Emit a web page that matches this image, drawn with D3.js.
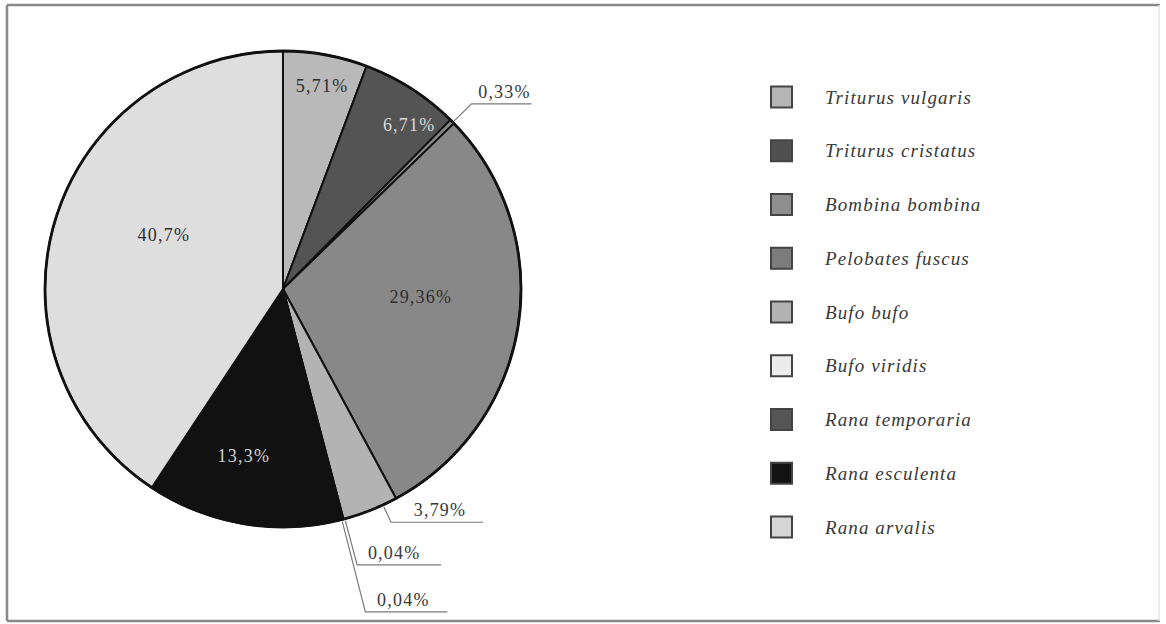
<!DOCTYPE html>
<html>
<head>
<meta charset="utf-8">
<script src="https://cdn.jsdelivr.net/npm/d3@7"></script>
<style>
  html, body { margin: 0; padding: 0; background: #fff; }
  svg { display: block; }
</style>
</head>
<body>
<svg id="chart" width="1166" height="624"></svg>
<script>
// ---- data ----
const species = ["Triturus vulgaris", "Triturus cristatus", "Bombina bombina", "Pelobates fuscus",
                 "Bufo bufo", "Bufo viridis", "Rana temporaria", "Rana esculenta", "Rana arvalis"];
const shares = [5.71, 6.71, 0.33, 29.36, 3.79, 0.04, 0.04, 13.3, 40.7];
const labels = ["5,71%", "6,71%", "0,33%", "29,36%", "3,79%", "0,04%", "0,04%", "13,3%", "40,7%"];

// ---- styles ----
const fills = ["#b9b9b9", "#545454", "#8a8a8a", "#888888", "#b3b3b3", "#ededed", "#4e4e4e", "#111111", "#dedede"];
const swatchFills = ["#b5b5b5", "#505050", "#8e8e8e", "#7c7c7c", "#b3b3b3", "#ececec", "#555555", "#131313", "#d6d6d6"];
// inside label placement: [angle shift (deg), radius fraction, text colour]
const insideCfg = {0: [0.6, 0.87, "#2e2e2e"], 1: [4.9, 0.87, "#d8d8d8"], 3: [-5.4, 0.58, "#2e2e2e"],
                   7: [3.7, 0.72, "#d0d0d0"], 8: [7.7, 0.55, "#2e2e2e"]};
// outside (leader) labels: [angle shift (deg), elbow radius fraction, line length, text shift]
const outsideCfg = {2: [0.2, 1.11, 60, 3], 4: [-3.3, 1.08, 92, 3], 5: [-0.4, 1.2, 84, -5], 6: [0.2, 1.4, 82, -3]};

const svg = d3.select("#chart");

// frame
const frame = svg.append("g").attr("stroke", "#8a8a8a").attr("stroke-width", 2.5);
frame.append("line").attr("x1", 7).attr("y1", 5).attr("x2", 1160).attr("y2", 5);
frame.append("line").attr("x1", 7).attr("y1", 5).attr("x2", 7).attr("y2", 621);
frame.append("line").attr("x1", 7).attr("y1", 621).attr("x2", 1160).attr("y2", 621);
frame.append("line").attr("x1", 1159).attr("y1", 5).attr("x2", 1159).attr("y2", 621)
  .attr("stroke", "#e4e4e4").attr("stroke-width", 1.5);

const cx = 283, cy = 289, R = 238;
const pie = d3.pie().sort(null).value(d => d)(shares);
const arc = d3.arc().innerRadius(0).outerRadius(R);

const g = svg.append("g").attr("transform", `translate(${cx},${cy})`);

g.selectAll("path.slice").data(pie).enter().append("path")
  .attr("class", "slice")
  .attr("d", arc)
  .attr("fill", (d, i) => fills[i])
  .attr("stroke", "#111")
  .attr("stroke-width", 2)
  .attr("stroke-linejoin", "round");

g.append("circle").attr("r", R).attr("fill", "none").attr("stroke", "#111").attr("stroke-width", 2.8);

const font = "'Liberation Serif', 'DejaVu Serif', serif";
const polar = (ang, r) => [r * Math.sin(ang), -r * Math.cos(ang)];

// inside labels
pie.forEach((d, i) => {
  const c = insideCfg[i];
  if (!c) return;
  const a = (d.startAngle + d.endAngle) / 2 + c[0] * Math.PI / 180;
  const [x, y] = polar(a, R * c[1]);
  g.append("text")
    .attr("x", x).attr("y", y).attr("dy", "0.35em")
    .attr("text-anchor", "middle")
    .attr("font-family", font).attr("font-size", 18)
    .attr("letter-spacing", 1.2)
    .attr("fill", c[2])
    .text(labels[i]);
});

// outside labels with leaders
pie.forEach((d, i) => {
  const c = outsideCfg[i];
  if (!c) return;
  const a = (d.startAngle + d.endAngle) / 2 + c[0] * Math.PI / 180;
  const p0 = polar(a, R + 2);
  const p1 = polar(a, R * c[1]);
  const p2 = [p1[0] + c[2], p1[1]];
  g.append("polyline")
    .attr("points", [p0, p1, p2].map(p => p.join(",")).join(" "))
    .attr("fill", "none").attr("stroke", "#7a7a7a").attr("stroke-width", 1.2);
  g.append("text")
    .attr("x", p1[0] + c[2] / 2 + c[3]).attr("y", p1[1] - 6)
    .attr("text-anchor", "middle")
    .attr("font-family", font).attr("font-size", 18)
    .attr("letter-spacing", 1.2)
    .attr("fill", "#383838")
    .text(labels[i]);
});

// legend
const ly = d3.scalePoint().domain(species).range([97, 527]);
const leg = svg.append("g");
const items = leg.selectAll("g.item").data(species).enter().append("g")
  .attr("class", "item")
  .attr("transform", d => `translate(0,${ly(d)})`);
items.append("rect")
  .attr("x", 771).attr("y", -10.5).attr("width", 21).attr("height", 21)
  .attr("fill", (d, i) => swatchFills[i])
  .attr("stroke", "#444").attr("stroke-width", 2);
items.append("text")
  .attr("x", 825).attr("y", 0).attr("dy", "0.35em")
  .attr("font-family", font).attr("font-style", "italic").attr("font-size", 19)
  .attr("letter-spacing", 1.1)
  .attr("fill", "#383838")
  .text(d => d);
</script>
</body>
</html>
